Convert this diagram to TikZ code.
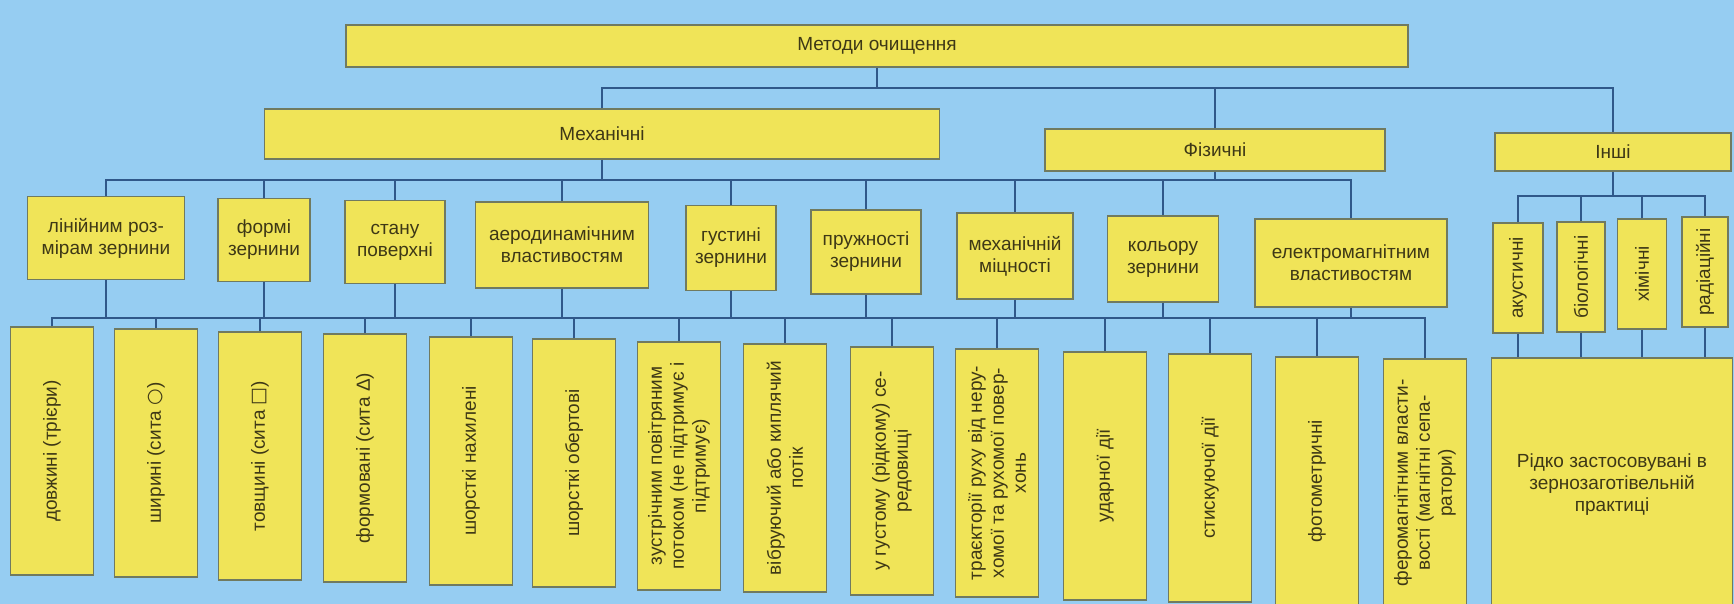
\documentclass[tikz,border=0pt]{standalone}
\usepackage{fontspec}
\setmainfont{Liberation Sans}
\newfontfamily\symfont{DejaVu Sans}
\definecolor{bgblue}{RGB}{150,205,242}
\definecolor{boxfill}{RGB}{240,228,88}
\definecolor{boxedge}{RGB}{112,122,96}
\definecolor{wire}{RGB}{48,88,138}
\definecolor{ink}{RGB}{62,56,22}
\begin{document}
\begin{tikzpicture}[x=1pt, y=-1pt,
    box_node/.style={draw=boxedge, fill=boxfill, line width=1.5pt, text=ink, align=center, inner sep=1pt, font=\fontsize{19}{22}\selectfont},
    vert_node/.style={box_node, rotate=90},
    tall_node/.style={vert_node, minimum width=248, minimum height=83},
    conn/.style={draw=wire, line width=1.6pt}]
    \path[use as bounding box, fill=bgblue] (0,0) rectangle (1734,604);

    % top and second level
    \node[box_node, minimum width=1062, minimum height=42] (top) at (877, 46) {Методи очищення};
    \node[box_node, minimum width=675, minimum height=50] (mech) at (602, 134) {Механічні};
    \node[box_node, minimum width=340, minimum height=42] (phys) at (1215, 150) {Фізичні};
    \node[box_node, minimum width=236, minimum height=38] (other) at (1613, 152) {Інші};

    % third level
    \node[box_node, minimum width=157, minimum height=83] (a1) at (106, 238) {лінійним роз-\\мірам зернини};
    \node[box_node, minimum width=92, minimum height=83] (a2) at (264, 240) {формі\\зернини};
    \node[box_node, minimum width=100, minimum height=83] (a3) at (395, 242) {стану\\поверхні};
    \node[box_node, minimum width=173, minimum height=86] (a4) at (562, 245) {аеродинамічним\\властивостям};
    \node[box_node, minimum width=90, minimum height=85] (a5) at (731, 248) {густині\\зернини};
    \node[box_node, minimum width=110, minimum height=84] (a6) at (866, 252) {пружності\\зернини};
    \node[box_node, minimum width=116, minimum height=86] (a7) at (1015, 256) {механічній\\міцності};
    \node[box_node, minimum width=111, minimum height=86] (a8) at (1163, 259) {кольору\\зернини};
    \node[box_node, minimum width=192, minimum height=88] (a9) at (1351, 263) {електромагнітним\\властивостям};

    \node[vert_node, minimum width=110, minimum height=50] (c1) at (1518, 278) {акустичні};
    \node[vert_node, minimum width=110, minimum height=48] (c2) at (1581, 277) {біологічні};
    \node[vert_node, minimum width=110, minimum height=49] (c3) at (1642, 274) {хімічні};
    \node[vert_node, minimum width=110, minimum height=46] (c4) at (1705, 272) {радіаційні};

    % fourth level
    \node[tall_node] (b1) at (52, 451) {довжині (трієри)};
    \node[tall_node] (b2) at (156, 453) {ширині (сита {\symfont ○})};
    \node[tall_node] (b3) at (260, 456) {товщині (сита {\symfont □})};
    \node[tall_node] (b4) at (365, 458) {формовані (сита Δ)};
    \node[tall_node] (b5) at (471, 461) {шорсткі нахилені};
    \node[tall_node] (b6) at (574, 463) {шорсткі обертові};
    \node[tall_node] (b7) at (679, 466) {зустрічним повітряним\\потоком (не підтримує і\\підтримує)};
    \node[tall_node] (b8) at (785, 468) {вібруючий або киплячий\\потік};
    \node[tall_node] (b9) at (892, 471) {у густому (рідкому) се-\\редовищі};
    \node[tall_node] (b10) at (997, 473) {траєкторії руху від неру-\\хомої та рухомої повер-\\хонь};
    \node[tall_node] (b11) at (1105, 476) {ударної дії};
    \node[tall_node] (b12) at (1210, 478) {стискуючої дії};
    \node[tall_node] (b13) at (1317, 481) {фотометричні};
    \node[tall_node] (b14) at (1425, 483) {феромагнітним власти-\\вості (магнітні сепа-\\ратори)};
    \node[box_node, minimum width=241, minimum height=254] (rare) at (1612, 485) {Рідко застосовувані в\\зернозаготівельній\\практиці};

    % connectors
    \coordinate (j1) at (877, 88);
    \coordinate (j2) at (0, 180);
    \coordinate (j3) at (0, 196);
    \coordinate (j4) at (0, 318);
    \draw[conn] (top) -- (j1);
    \draw[conn] (mech) |- (other |- j1) -- (other);
    \draw[conn] (phys) -- (phys |- j1);
    \draw[conn] (a1) |- (a9 |- j2) -- (a9);
    \foreach \n in {a2,a3,a4,a5,a6,a7,a8,mech,phys}
        \draw[conn] (\n) -- (\n |- j2);
    \draw[conn] (c1) |- (c4 |- j3) -- (c4);
    \foreach \n in {c2,c3,other}
        \draw[conn] (\n) -- (\n |- j3);
    \foreach \n in {c1,c2,c3,c4}
        \draw[conn] (\n) -- (\n |- rare.north);
    \draw[conn] (b1) |- (b14 |- j4) -- (b14);
    \foreach \n in {b2,b3,b4,b5,b6,b7,b8,b9,b10,b11,b12,b13,a1,a2,a3,a4,a5,a6,a7,a8,a9}
        \draw[conn] (\n) -- (\n |- j4);
\end{tikzpicture}
\end{document}
